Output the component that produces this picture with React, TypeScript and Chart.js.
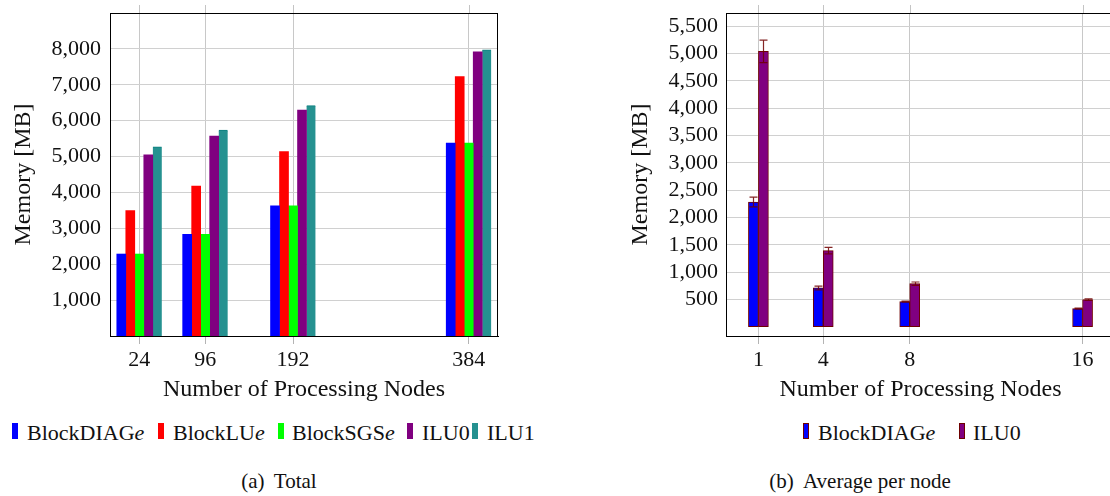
import React, { useEffect, useRef } from 'react';
import { Chart, registerables } from 'chart.js';

Chart.register(...registerables);

// ---- Data: (a) Total ----
const totalNodes = [24, 96, 192, 384];
const totalBlockDIAGe = [2284, 2834, 3625, 5375];
const totalBlockLUe = [3494, 4174, 5142, 7227];
const totalBlockSGSe = [2284, 2834, 3625, 5375];
const totalILU0 = [5049, 5570, 6296, 7916];
const totalILU1 = [5272, 5738, 6417, 7972];
const totalYTicks = [1000, 2000, 3000, 4000, 5000, 6000, 7000, 8000];

// ---- Data: (b) Average per node ----
const avgNodes = [1, 4, 8, 16];
const avgBlockDIAGe = [2284, 709, 458, 330];
const avgBlockDIAGeErr = [90, 35, 8, 8];
const avgILU0 = [5042, 1392, 788, 494];
const avgILU0Err = [205, 60, 30, 15];
const avgYTicks = [500, 1000, 1500, 2000, 2500, 3000, 3500, 4000, 4500, 5000, 5500];

const FONT = "'Liberation Serif', 'Times New Roman', serif";
const TEXT = '#111';

const pts = (xs: number[], ys: number[]) => xs.map((x, i) => ({ x, y: ys[i] }));

const framePlugin = {
  id: 'frame',
  afterDraw(chart: any, _args: any, opts: any) {
    const { ctx, chartArea: a, scales } = chart;
    ctx.save();
    ctx.lineWidth = 1;
    ctx.strokeStyle = '#c4c4c4';
    scales.x.ticks.forEach((t: any) => {
      const px = Math.round(scales.x.getPixelForValue(t.value)) + 0.5;
      ctx.beginPath();
      ctx.moveTo(px, a.top - 8);
      ctx.lineTo(px, a.top);
      ctx.stroke();
    });
    ctx.strokeStyle = '#000';
    const top = Math.round(a.top) + 0.5;
    ctx.beginPath();
    ctx.moveTo(a.left, top);
    ctx.lineTo(a.right, top);
    ctx.stroke();
    if (opts && opts.right) {
      const r = Math.round(a.right) - 0.5;
      ctx.beginPath();
      ctx.moveTo(r, a.top);
      ctx.lineTo(r, a.bottom);
      ctx.stroke();
    }
    ctx.restore();
  },
};

const errorBarPlugin = {
  id: 'errorBars',
  afterDatasetsDraw(chart: any) {
    const { ctx } = chart;
    const ys = chart.scales.y;
    chart.data.datasets.forEach((ds: any, i: number) => {
      if (!ds.errors) return;
      const meta = chart.getDatasetMeta(i);
      meta.data.forEach((el: any, j: number) => {
        const v = ds.data[j].y;
        const e = ds.errors[j];
        const t = ys.getPixelForValue(v + e);
        const b = ys.getPixelForValue(v - e);
        const x = Math.round(el.x) + 0.5;
        ctx.save();
        ctx.strokeStyle = 'rgba(112,0,0,0.85)';
        ctx.lineWidth = 1.2;
        ctx.beginPath();
        ctx.moveTo(x, t);
        ctx.lineTo(x, b);
        ctx.moveTo(x - 4, t);
        ctx.lineTo(x + 4, t);
        ctx.moveTo(x - 4, b);
        ctx.lineTo(x + 4, b);
        ctx.stroke();
        ctx.restore();
      });
    });
  },
};

function makeScales(o: {
  xmin: number; xmax: number; xticks: number[];
  ymin: number; ymax: number; yticks: number[];
  yWidth: number; yTitlePad: number; yLabelPad: number;
}) {
  return {
    x: {
      type: 'linear',
      min: o.xmin,
      max: o.xmax,
      offset: false,
      grid: { offset: false, color: '#c8c8c8', tickColor: '#b4b4b4', tickLength: 8, drawTicks: true, lineWidth: 1 },
      border: { display: true, color: '#000', width: 1 },
      afterBuildTicks: (s: any) => { s.ticks = o.xticks.map((v) => ({ value: v })); },
      afterFit: (s: any) => {
        s.height = 68;
        s.paddingLeft = 0; s.paddingRight = 0; s.paddingTop = 0; s.paddingBottom = 0;
      },
      ticks: {
        padding: 3,
        color: TEXT,
        font: { family: FONT, size: 22 },
        maxRotation: 0,
        autoSkip: false,
        callback: (v: any) => String(v),
      },
      title: {
        display: true,
        text: 'Number of Processing Nodes',
        color: TEXT,
        font: { family: FONT, size: 24 },
        padding: { top: 0, bottom: 0 },
      },
    },
    y: {
      type: 'linear',
      min: o.ymin,
      max: o.ymax,
      grid: { color: '#d0d0d0', drawTicks: false, lineWidth: 1 },
      border: { display: true, color: '#000', width: 1 },
      afterBuildTicks: (s: any) => { s.ticks = o.yticks.map((v) => ({ value: v })); },
      afterFit: (s: any) => {
        s.width = o.yWidth;
        s.paddingLeft = 0; s.paddingRight = 0; s.paddingTop = 0; s.paddingBottom = 0;
      },
      ticks: {
        padding: o.yLabelPad,
        color: TEXT,
        font: { family: FONT, size: 22 },
        autoSkip: false,
        callback: (v: any) => Number(v).toLocaleString('en-US'),
      },
      title: {
        display: true,
        text: 'Memory [MB]',
        color: TEXT,
        font: { family: FONT, size: 24 },
        padding: { top: o.yTitlePad, bottom: 0 },
      },
    },
  };
}

function ChartCanvas({ width, height, config }: { width: number; height: number; config: () => any }) {
  const ref = useRef<HTMLCanvasElement | null>(null);
  useEffect(() => {
    if (!ref.current) return;
    const chart = new Chart(ref.current, config());
    return () => chart.destroy();
  }, []);
  return <canvas ref={ref} width={width} height={height} style={{ display: 'block', width, height }} />;
}

const totalConfig = () => ({
  type: 'bar',
  data: {
    datasets: [
      { label: 'BlockDIAGe', data: pts(totalNodes, totalBlockDIAGe), backgroundColor: '#0000ff', borderWidth: 0 },
      { label: 'BlockLUe', data: pts(totalNodes, totalBlockLUe), backgroundColor: '#ff0000', borderWidth: 0 },
      { label: 'BlockSGSe', data: pts(totalNodes, totalBlockSGSe), backgroundColor: '#00ff00', borderWidth: 0 },
      { label: 'ILU0', data: pts(totalNodes, totalILU0), backgroundColor: '#800080', borderWidth: 0 },
      { label: 'ILU1', data: pts(totalNodes, totalILU1), backgroundColor: '#259190', borderColor: '#0b7f7e', borderWidth: { top: 1, left: 0, right: 0, bottom: 0 } },
    ],
  },
  options: {
    responsive: false,
    animation: false,
    events: [],
    layout: { padding: { left: 0, top: 13, right: 4, bottom: 0 } },
    datasets: { bar: { barThickness: 9, grouped: true } },
    scales: makeScales({
      xmin: -8, xmax: 416, xticks: totalNodes,
      ymin: 0, ymax: 9000, yticks: totalYTicks,
      yWidth: 110, yTitlePad: 9, yLabelPad: 9,
    }),
    plugins: { legend: { display: false }, tooltip: { enabled: false }, frame: { right: true } },
  },
  plugins: [framePlugin],
});

const avgConfig = () => ({
  type: 'bar',
  data: {
    datasets: [
      { label: 'BlockDIAGe', data: pts(avgNodes, avgBlockDIAGe), errors: avgBlockDIAGeErr, backgroundColor: '#0000ff', borderColor: '#6e0000', borderWidth: 1, borderSkipped: false },
      { label: 'ILU0', data: pts(avgNodes, avgILU0), errors: avgILU0Err, backgroundColor: '#800080', borderColor: '#6e0000', borderWidth: 1, borderSkipped: false },
    ],
  },
  options: {
    responsive: false,
    animation: false,
    events: [],
    layout: { padding: { left: 0, top: 13, right: 5, bottom: 0 } },
    datasets: { bar: { barThickness: 10, grouped: true } },
    scales: makeScales({
      xmin: -0.5, xmax: 17.5, xticks: avgNodes,
      ymin: -171, ymax: 5745, yticks: avgYTicks,
      yWidth: 106, yTitlePad: 6, yLabelPad: 8,
    }),
    plugins: { legend: { display: false }, tooltip: { enabled: false }, frame: { right: false } },
  },
  plugins: [framePlugin, errorBarPlugin],
});

const textStyle: React.CSSProperties = {
  position: 'absolute',
  fontFamily: FONT,
  fontSize: 22,
  lineHeight: '24px',
  color: TEXT,
  whiteSpace: 'nowrap',
};

function Marker({ left, color, border }: { left: number; color: string; border?: string }) {
  return (
    <div
      style={{
        position: 'absolute',
        left,
        top: 423,
        width: 6,
        height: 16,
        boxSizing: 'border-box',
        background: color,
        border: border ? `1px solid ${border}` : 'none',
      }}
    />
  );
}

function LegendText({ left, name, italicE }: { left: number; name: string; italicE?: boolean }) {
  return (
    <div style={{ ...textStyle, left, top: 421 }}>
      {name}
      {italicE ? <i>e</i> : null}
    </div>
  );
}

export default function App() {
  return (
    <div
      style={{
        position: 'fixed',
        left: 0,
        top: 0,
        width: 1110,
        height: 496,
        overflow: 'hidden',
        background: '#fff',
      }}
    >
      <div style={{ position: 'absolute', left: 0, top: 0 }}>
        <ChartCanvas width={502} height={404} config={totalConfig} />
      </div>
      <div style={{ position: 'absolute', left: 620, top: 0 }}>
        <ChartCanvas width={500} height={404} config={avgConfig} />
      </div>

      {/* Legend (a) */}
      <Marker left={12} color="#0000ff" />
      <LegendText left={27} name="BlockDIAG" italicE />
      <Marker left={158} color="#ff0000" />
      <LegendText left={173} name="BlockLU" italicE />
      <Marker left={278} color="#00ff00" />
      <LegendText left={292} name="BlockSGS" italicE />
      <Marker left={407} color="#800080" />
      <LegendText left={422} name="ILU0" />
      <Marker left={472} color="#259190" />
      <LegendText left={487} name="ILU1" />

      {/* Legend (b) */}
      <Marker left={803} color="#0000ff" border="#6e0000" />
      <LegendText left={818} name="BlockDIAG" italicE />
      <Marker left={959} color="#800080" border="#6e0000" />
      <LegendText left={973} name="ILU0" />

      {/* Captions */}
      <div style={{ ...textStyle, fontSize: 21, left: 179, width: 200, top: 469, textAlign: 'center' }}>
        (a) <span style={{ marginLeft: 4 }}>Total</span>
      </div>
      <div style={{ ...textStyle, fontSize: 21, left: 760, width: 200, top: 469, textAlign: 'center' }}>
        (b) <span style={{ marginLeft: 4 }}>Average per node</span>
      </div>
    </div>
  );
}
